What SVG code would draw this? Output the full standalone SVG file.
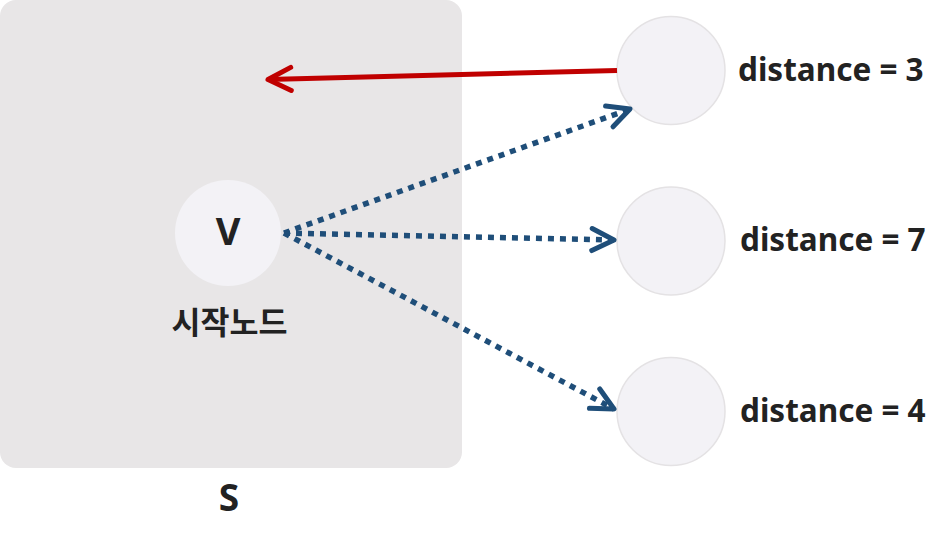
<svg xmlns="http://www.w3.org/2000/svg" width="946" height="546" viewBox="0 0 946 546">
<style>
.t{font-family:"Noto Sans","Noto Sans CJK KR",sans-serif;font-weight:bold;fill:#222}
.node{fill:#f3f2f6;stroke:#e4e2e4;stroke-width:1.5}
.dot{fill:none;stroke:#1f4e79;stroke-width:5.5;stroke-dasharray:6 6}
</style>
<defs>
<marker id="ab" markerUnits="userSpaceOnUse" markerWidth="40" markerHeight="40" refX="0" refY="0" viewBox="-30 -20 40 40" orient="auto" overflow="visible">
<path d="M-22,-11 L0,0 L-22,11" fill="none" stroke="#1f4e79" stroke-width="5" stroke-linecap="round" stroke-linejoin="round"/>
</marker>
<marker id="ar" markerUnits="userSpaceOnUse" markerWidth="40" markerHeight="40" refX="0" refY="0" viewBox="-30 -20 40 40" orient="auto" overflow="visible">
<path d="M-23,-11.5 L0,0 L-23,11.5" fill="none" stroke="#c00000" stroke-width="5" stroke-linecap="round" stroke-linejoin="round"/>
</marker>
</defs>
<g id="S">
<rect x="0" y="0" width="462" height="468" rx="16" fill="#e8e6e7"/>
<text class="t" x="229" y="511" font-size="37" text-anchor="middle">S</text>
</g>
<g id="V">
<circle cx="228" cy="233" r="53" fill="#f3f2f6"/>
<text class="t" x="228" y="245" font-size="38" text-anchor="middle">V</text>
<text class="t" x="229.5" y="334" font-size="31.5" text-anchor="middle">시작노드</text>
</g>
<g id="n1">
<circle class="node" cx="671" cy="70.5" r="54"/>
<text class="t" x="738" y="81" font-size="31.5">distance = 3</text>
</g>
<g id="n2">
<circle class="node" cx="671" cy="241" r="54"/>
<text class="t" x="740" y="251" font-size="31.5">distance = 7</text>
</g>
<g id="n3">
<circle class="node" cx="671" cy="411.5" r="54"/>
<text class="t" x="740" y="422" font-size="31.5">distance = 4</text>
</g>
<g id="connectors">
<path d="M617,70.5 L268,79.5" fill="none" stroke="#c00000" stroke-width="5" marker-end="url(#ar)"/>
<path class="dot" d="M284,233 L630,109" marker-end="url(#ab)"/>
<path class="dot" d="M284,233 L614,240" marker-end="url(#ab)"/>
<path class="dot" d="M284,233 L614,409" marker-end="url(#ab)"/>
</g>
</svg>
